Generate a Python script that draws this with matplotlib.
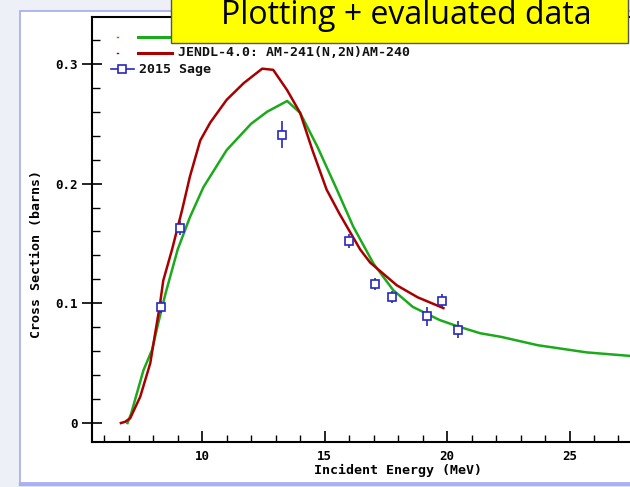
import matplotlib.pyplot as plt
from matplotlib.patches import Rectangle
from matplotlib.lines import Line2D
from matplotlib.ticker import MultipleLocator, FixedLocator, FixedFormatter

# evaluated curve (green, label hidden under the title box)
green_e = [6.95, 7.1, 7.6, 7.95, 8.2, 8.5, 9.0, 9.5, 10.05, 11.0, 12.0, 12.65,
           13.47, 14.0, 14.7, 15.5, 16.17, 17.0, 17.8, 18.6, 19.7, 20.4, 21.35,
           22.2, 23.7, 25.7, 27.5]
green_xs = [0.0, 0.008, 0.044, 0.061, 0.083, 0.108, 0.145, 0.172, 0.197, 0.228,
            0.250, 0.260, 0.269, 0.259, 0.231, 0.195, 0.164, 0.133, 0.111, 0.097,
            0.086, 0.081, 0.075, 0.072, 0.065, 0.059, 0.056]

# JENDL-4.0
jendl_e = [6.68, 6.85, 7.06, 7.47, 7.88, 8.08, 8.26, 8.41, 8.77, 9.18, 9.5, 9.92,
           10.33, 11.0, 11.7, 12.45, 12.9, 13.47, 14.0, 14.5, 15.08, 15.6, 16.45,
           16.86, 17.95, 18.8, 19.85]
jendl_xs = [0.0, 0.001, 0.004, 0.022, 0.050, 0.075, 0.097, 0.119, 0.145, 0.178,
            0.206, 0.236, 0.251, 0.270, 0.284, 0.296, 0.295, 0.278, 0.259, 0.228,
            0.195, 0.175, 0.145, 0.134, 0.115, 0.105, 0.096]

# 2015 Sage measurement
sage_e = [8.31, 9.1, 13.27, 16.0, 17.06, 17.76, 19.2, 19.8, 20.45]
sage_xs = [0.097, 0.163, 0.241, 0.152, 0.116, 0.105, 0.089, 0.102, 0.078]
sage_err = [0.005, 0.006, 0.0115, 0.006, 0.005, 0.005, 0.0077, 0.006, 0.007]

y_ticks = [0, 0.1, 0.2, 0.3]
y_labels = ["0", "0.1", "0.2", "0.3"]
x_ticks = [10, 15, 20, 25]

GREEN = "#1caa1c"
RED = "#a80000"
BLUE = "#2828c0"
MONO = "DejaVu Sans Mono"

W, H = 630, 487
fig = plt.figure(figsize=(W / 100, H / 100), dpi=100)
fig.patch.set_facecolor("#eef0f8")

# white screenshot panel
fig.patches.append(Rectangle((20 / W, 1 - 483 / H), 612 / W, 472 / H,
                             transform=fig.transFigure, facecolor="white",
                             edgecolor="#a4aaf0", lw=1.2, zorder=-5))
fig.add_artist(Line2D([20 / W, 1], [1 - 484 / H] * 2, color="#a8b0f4", lw=2.5,
                      zorder=-4))

ax = fig.add_axes([92 / W, 1 - 441.7 / H, 538 / W, 425 / H])
ax.set_facecolor("white")

ax.plot(green_e, green_xs, color=GREEN, lw=1.8, zorder=3)
ax.plot(jendl_e, jendl_xs, color=RED, lw=1.8, zorder=4)
ax.errorbar(sage_e, sage_xs, yerr=sage_err, fmt="s", ms=5.8, mfc="white",
            mec=BLUE, mew=1.2, ecolor=BLUE, elinewidth=1.2, capsize=0, zorder=5)

ax.set_xlim(5.5, 27.47)
ax.set_ylim(-0.0156, 0.3394)

ax.xaxis.set_major_locator(FixedLocator(x_ticks))
ax.xaxis.set_minor_locator(MultipleLocator(1))
ax.yaxis.set_major_locator(FixedLocator(y_ticks))
ax.yaxis.set_major_formatter(FixedFormatter(y_labels))
ax.yaxis.set_minor_locator(MultipleLocator(0.02))

ax.tick_params(axis="x", which="major", direction="in", length=8, width=1.2, pad=6)
ax.tick_params(axis="x", which="minor", direction="in", length=5, width=1.0)
ax.tick_params(axis="y", which="major", direction="inout", length=14, width=1.2, pad=3)
ax.tick_params(axis="y", which="minor", direction="in", length=6, width=1.0)
for lab in ax.get_xticklabels() + ax.get_yticklabels():
    lab.set_fontfamily(MONO)
    lab.set_fontweight("bold")
    lab.set_fontsize(9)

for side in ("left", "bottom", "top"):
    ax.spines[side].set_linewidth(1.5)
ax.spines["right"].set_visible(False)

ax.set_xlabel("Incident Energy (MeV)", family=MONO, fontweight="bold", fontsize=9.5)
ax.xaxis.set_label_coords((398 - 92) / 538, -(464 - 441.7) / 425, transform=ax.transAxes)
ax.set_ylabel("Cross Section (barns)", family=MONO, fontweight="bold", fontsize=9.5)
ax.yaxis.set_label_coords(-(92 - 43) / 538, (441.7 - 254) / 425, transform=ax.transAxes)


# legend drawn by hand, in pixel positions of the screenshot
def px(x, y):
    return x / W, 1 - y / H


fig.add_artist(Line2D(*zip(px(117, 37), px(118, 37)), color=GREEN, lw=1))
fig.add_artist(Line2D(*zip(px(138, 37), px(175, 37)), color=GREEN, lw=2.2))
fig.add_artist(Line2D(*zip(px(117, 53), px(118, 53)), color=RED, lw=1))
fig.add_artist(Line2D(*zip(px(138, 53), px(172, 53)), color=RED, lw=2.2))
fig.text(*px(178, 53), "JENDL-4.0: AM-241(N,2N)AM-240", family=MONO,
         fontweight="bold", fontsize=9.5, va="center", color="#111")
fig.add_artist(Line2D(*zip(px(111, 69), px(134, 69)), color=BLUE, lw=1.2))
fig.add_artist(Line2D([px(122, 69)[0]], [px(122, 69)[1]], marker="s", ms=5.8,
                      mfc="white", mec=BLUE, mew=1.2, ls="none"))
fig.text(*px(139, 69), "2015 Sage", family=MONO, fontweight="bold",
         fontsize=9.5, va="center", color="#111")

# yellow title box from the slide
fig.patches.append(Rectangle((171 / W, 1 - 43 / H), 457 / W, 50 / H,
                             transform=fig.transFigure, facecolor="#ffff00",
                             edgecolor="#555555", lw=1.0, zorder=10))
fig.text(406 / W, 1 - 24 / H, "Plotting + evaluated data", family="Open Sans",
         fontsize=23, ha="center", va="baseline", color="black", zorder=11)

fig.savefig("out.png", dpi=100)
